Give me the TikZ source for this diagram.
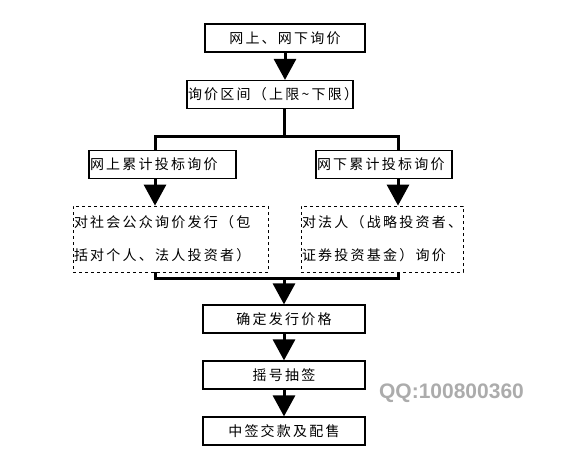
\documentclass[tikz,border=0pt]{standalone}
\usepackage{fontspec}
\setsansfont{Liberation Sans}
\newfontfamily\cjk[LetterSpace=16]{Noto Sans CJK SC}
\usetikzlibrary{arrows.meta}

\begin{document}
\begin{tikzpicture}[x=1pt, y=-1pt,
    box/.style={draw, line width=1.2pt, inner sep=1pt, minimum height=28pt,
      font=\cjk\fontsize{14}{16}\selectfont},
    notebox/.style={draw, dashed, line width=0.8pt, inner sep=1pt,
      minimum height=66pt, align=left, font=\cjk\fontsize{14}{33}\selectfont},
    link/.style={line width=3pt},
    flow/.style={line width=3pt, -{Triangle[length=21pt, width=22pt]}}]
  \useasboundingbox (0,0) rectangle (583,461);

  % inquiry and price range
  \node [box, minimum width=160pt] (ask) at (285,38) {网上、网下询价};
  \node [box, text width=164pt] (range) at (270,94.5)
    {询价区间（上限\textasciitilde 下限）};
  \draw [flow] (ask.south) -- (ask.south |- range.north);

  % two bidding channels
  \coordinate (split) at (284,136);
  \coordinate (lsplit) at (155,136);
  \coordinate (rsplit) at (398,136);
  \node [box, text width=145pt] (online) at (162.5,164.5) {网上累计投标询价};
  \node [box, text width=134pt] (offline) at (384,164.5) {网下累计投标询价};
  \draw [link] (split |- range.south) -- (split);
  \draw [link] (lsplit |- online.north) -- (lsplit) -- (rsplit)
    -- (rsplit |- offline.north);

  \node [notebox, text width=193pt] (public) at (170.5,239)
    {对社会公众询价发行（包\\括对个人、法人投资者）};
  \node [notebox, text width=160pt] (firm) at (382,239)
    {对法人（战略投资者、\\证券投资基金）询价};
  \draw [flow] (lsplit |- online.south) -- (lsplit |- public.north);
  \draw [flow] (rsplit |- offline.south) -- (rsplit |- firm.north);

  % merge and the remaining steps
  \coordinate (merge) at (284,278);
  \coordinate (lmerge) at (155,278);
  \coordinate (rmerge) at (398,278);
  \draw [link] (lmerge |- public.south) -- (lmerge) -- (rmerge)
    -- (rmerge |- firm.south);

  \node [box, minimum width=162pt] (price) at (284,319) {确定发行价格};
  \node [box, minimum width=162pt] (lottery) at (284,375) {摇号抽签};
  \node [box, minimum width=162pt] (pay) at (284,431) {中签交款及配售};
  \draw [flow] (merge) -- (merge |- price.north);
  \draw [flow] (price.south) -- (lottery.north);
  \draw [flow] (lottery.south) -- (pay.north);

  \node [text=gray!65, font=\sffamily\bfseries\fontsize{21}{21}\selectfont]
    (qq) at (451.5,393) {QQ:100800360};
\end{tikzpicture}
\end{document}
